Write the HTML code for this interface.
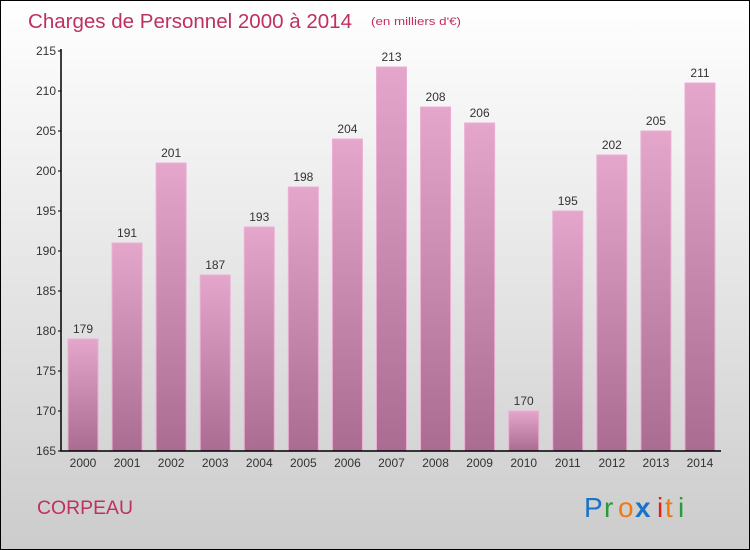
<!DOCTYPE html>
<html><head><meta charset="utf-8"><style>
body{margin:0;}
#wrap{position:relative;width:750px;height:550px;box-sizing:border-box;border:1px solid #000;background:linear-gradient(#ffffff,#cccccc);font-family:"Liberation Sans",sans-serif;overflow:hidden}
svg{position:absolute;left:0;top:0}
</style></head><body>
<div id="wrap">
<svg id="chart" width="750" height="550">
<defs><linearGradient id="bg" x1="0" y1="0" x2="0" y2="1"><stop offset="0" stop-color="#e5a6cb"/><stop offset="1" stop-color="#aa6c91"/></linearGradient></defs>
<text x="27" y="27" font-size="20" fill="#c0305f" textLength="324" lengthAdjust="spacingAndGlyphs">Charges de Personnel 2000 à 2014</text>
<text x="370" y="24" font-size="11" fill="#c0305f" textLength="90" lengthAdjust="spacingAndGlyphs">(en milliers d'€)</text>
<text x="36" y="513" font-size="19" fill="#c0305f" textLength="96" lengthAdjust="spacingAndGlyphs">CORPEAU</text>
<g font-size="28">
<text x="583" y="516" fill="#1a73c8">P</text><text x="603" y="516" fill="#2a9a3a">r</text><text x="617" y="516" fill="#f07a10">o</text><text x="634" y="516" fill="#1a73c8" font-weight="bold">x</text><text x="656" y="516" fill="#e02020">i</text><text x="664" y="516" fill="#f07a10">t</text><text x="677" y="516" fill="#2a9a3a">i</text>
</g>
<g id="bars"></g>
<g id="axes"></g>
</svg>
</div>
<script>
const categories=["2000","2001","2002","2003","2004","2005","2006","2007","2008","2009","2010","2011","2012","2013","2014"];
const values=[179,191,201,187,193,198,204,213,208,206,170,195,202,205,211];
const yTicks=[165,170,175,180,185,190,195,200,205,210,215];
const NS="http://www.w3.org/2000/svg";
const y=v=>450-(v-165)*8;
const x=i=>67+i*44.07;
const bars=document.getElementById('bars'),axes=document.getElementById('axes');
function mk(tag,a,p){const e=document.createElementNS(NS,tag);for(const k in a)e.setAttribute(k,a[k]);p.appendChild(e);return e;}
values.forEach((v,i)=>{
 const r=mk('rect',{x:x(i),y:y(v),width:30,height:450-y(v),fill:'url(#bg)',stroke:'#eab0d2','stroke-width':1},bars);
 
 
 const t=mk('text',{x:x(i)+15,y:y(v)-6,'font-size':12,'text-anchor':'middle',fill:'#333'},bars);
 t.textContent=v;
 
 
 const c=mk('text',{x:x(i)+15,y:466,'font-size':12,'text-anchor':'middle',fill:'#333'},axes);
 c.textContent=categories[i];
 
 
});
const ax=mk('path',{d:'M60,48V450H720',stroke:'#000',fill:'none','stroke-width':1.5},axes);


yTicks.forEach(v=>{
 mk('line',{x1:57,x2:60,y1:y(v),y2:y(v),stroke:'#000'},axes);
 const t=mk('text',{x:55,y:y(v)+4,'font-size':12,'text-anchor':'end',fill:'#333'},axes);
 t.textContent=v;
 
 
});
</script>
</body></html>
